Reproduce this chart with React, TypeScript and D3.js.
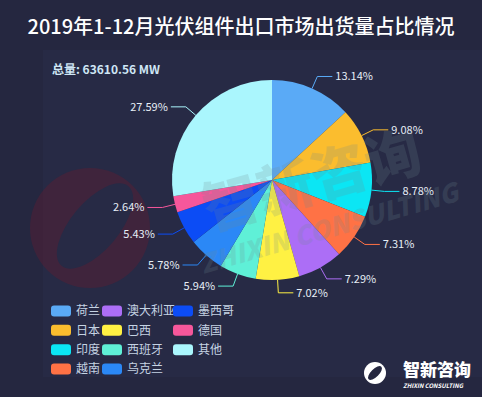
import * as d3 from 'd3'

// 2019年1-12月光伏组件出口市场出货量占比
const countries = ['荷兰', '日本', '印度', '越南', '澳大利亚', '巴西', '西班牙', '乌克兰', '墨西哥', '德国', '其他']
const shares = [13.14, 9.08, 8.78, 7.31, 7.29, 7.02, 5.94, 5.78, 5.43, 2.64, 27.59]
const colors = ['#5aaaf6', '#fbbd2e', '#0be6f4', '#ff7245', '#ac6ef6', '#fff143', '#5ff0d7', '#2b88f6', '#0c4cf5', '#f6579b', '#aaf6fd']
const title = '2019年1-12月光伏组件出口市场出货量占比情况'
const totalLabel = '总量: 63610.56 MW'

const W = 482
const H = 397
const FONT = '"Noto Sans CJK SC", "Noto Sans", sans-serif'

export default function App() {
  const cx = 272
  const cy = 180
  const r = 100

  const data = countries.map((name, i) => ({ name, value: shares[i], color: colors[i] }))
  const pie = d3.pie<{ name: string; value: number; color: string }>().sort(null).value(d => d.value)
  const arcs = pie(data)
  const arc = d3.arc<d3.PieArcDatum<any>>().innerRadius(0).outerRadius(r)

  const len1 = 13
  const len2 = 15

  const legendX = d3.scaleOrdinal<number, number>().domain([0, 1, 2]).range([51, 102, 173])
  const legendY = d3.scaleLinear().domain([0, 3]).range([311, 369])

  return (
    <svg width={W} height={H} style={{ position: 'fixed', left: 0, top: 0, display: 'block' }} fontFamily={FONT}>
      <rect width={W} height={H} fill="#252740" />
      <rect x={43} y={50} width={W - 43} height={327} fill="#272a45" />

      {/* left logo watermark */}
      <g opacity={0.45}>
        <circle cx={90} cy={228} r={60} fill="#5c1e33" />
        <ellipse cx={95} cy={226} rx={52} ry={24} transform="rotate(-50 95 226)" fill="#272a45" />
      </g>

      <text x={W / 2} y={34} textAnchor="middle" fill="#ffffff" fontSize={20} fontWeight={500}>
        {title}
      </text>
      <text x={52} y={74} fill="#cfe6f5" fontSize={12} fontWeight={700}>
        {totalLabel}
      </text>

      <g transform={`translate(${cx},${cy})`}>
        {arcs.map(a => (
          <path key={a.data.name} d={arc(a) || ''} fill={a.data.color} />
        ))}
        {arcs.map(a => {
          const mid = (a.startAngle + a.endAngle) / 2
          const sx = Math.sin(mid)
          const sy = -Math.cos(mid)
          const right = sx >= 0
          const p1 = [sx * r, sy * r]
          const p2 = [sx * (r + len1), sy * (r + len1)]
          const p3 = [p2[0] + (right ? len2 : -len2), p2[1]]
          return (
            <g key={'l' + a.data.name}>
              <polyline
                points={[p1, p2, p3].map(p => p.join(',')).join(' ')}
                fill="none"
                stroke={a.data.color}
                strokeWidth={1}
              />
              <text
                x={p3[0] + (right ? 3 : -3)}
                y={p3[1]}
                dy="0.35em"
                textAnchor={right ? 'start' : 'end'}
                fill="#e6eef6"
                fontSize={11}
              >
                {a.data.value.toFixed(2)}%
              </text>
            </g>
          )
        })}
      </g>

      {/* watermark */}
      <g opacity={0.2} transform="rotate(-16 315 190)" fill="#6f8a90">
        <text x={315} y={200} textAnchor="middle" fontSize={56} fontWeight={900}>
          智新咨询
        </text>
        <text x={318} y={240} textAnchor="middle" fontSize={26} fontWeight={900} fontStyle="italic">
          ZHIXIN CONSULTING
        </text>
      </g>

      {/* legend */}
      {data.map((d, i) => {
        const col = Math.floor(i / 4)
        const row = i % 4
        const x = legendX(col)
        const y = legendY(row)
        return (
          <g key={'lg' + d.name}>
            <rect x={x} y={y - 5.5} width={20} height={11} rx={3} fill={d.color} />
            <text x={x + 25} y={y} dy="0.35em" fill="#c5d3e3" fontSize={12}>
              {d.name}
            </text>
          </g>
        )
      })}

      {/* bottom-right logo */}
      <g>
        <circle cx={375} cy={373} r={11} fill="#ffffff" />
        <ellipse cx={375} cy={373} rx={9} ry={4} transform="rotate(-45 375 373)" fill="#252740" />
        <text x={403} y={376} fill="#ffffff" fontSize={17} fontWeight={900}>
          智新咨询
        </text>
        <text x={403} y={388} fill="#ffffff" fontSize={6} fontWeight={700} fontStyle="italic">
          ZHIXIN CONSULTING
        </text>
      </g>
    </svg>
  )
}
